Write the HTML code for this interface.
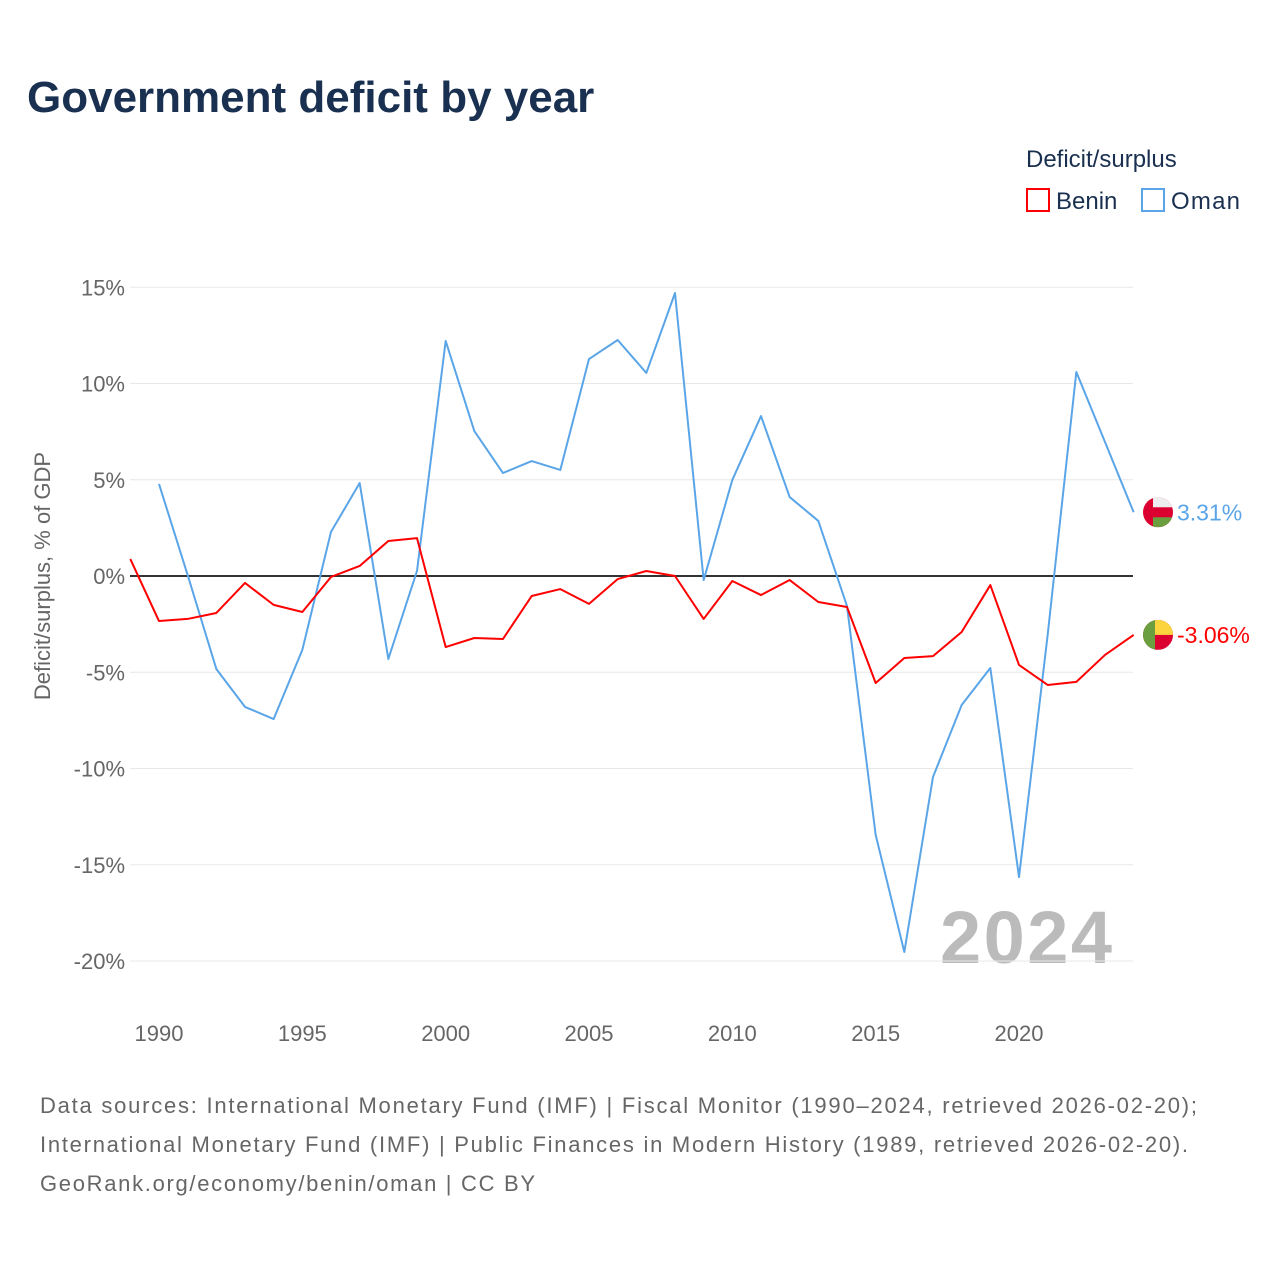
<!DOCTYPE html>
<html><head><meta charset="utf-8"><style>
body{margin:0;background:#fff;font-family:"Liberation Sans",sans-serif}
</style></head><body>
<svg id="chart" width="1280" height="1280" xmlns="http://www.w3.org/2000/svg" style="display:block;font-family:'Liberation Sans',sans-serif">
<text x="27" y="112" font-size="44" font-weight="bold" fill="#1a3050">Government deficit by year</text>
<text x="1026" y="167" font-size="24" fill="#1a3050">Deficit/surplus</text>
<g><rect x="1027" y="189" width="22" height="22" fill="none" stroke="#f00" stroke-width="2"/><text x="1056" y="209" font-size="24" fill="#1a3050">Benin</text></g>
<g><rect x="1142" y="189" width="22" height="22" fill="none" stroke="#5aa5e8" stroke-width="2"/><text x="1171" y="209" font-size="24" fill="#1a3050" textLength="69">Oman</text></g>
<text transform="translate(50,576) rotate(-90)" text-anchor="middle" font-size="22" fill="#666">Deficit/surplus, % of GDP</text>
<text x="940" y="963" font-size="74" font-weight="bold" fill="#bbb" textLength="172">2024</text>
<g id="grid"></g><g id="series"></g>
<g font-size="22" fill="#666">
<text x="40" y="1113" textLength="1157">Data sources: International Monetary Fund (IMF) | Fiscal Monitor (1990–2024, retrieved 2026-02-20);</text>
<text x="40" y="1152" textLength="1148">International Monetary Fund (IMF) | Public Finances in Modern History (1989, retrieved 2026-02-20).</text>
<text x="40" y="1191" textLength="495">GeoRank.org/economy/benin/oman | CC BY</text>
</g>
</svg>
<script>
const yTicks=[15,10,5,0,-5,-10,-15,-20];
const xTicks=[1990,1995,2000,2005,2010,2015,2020];
const beninYears=[1989,1990,1991,1992,1993,1994,1995,1996,1997,1998,1999,2000,2001,2002,2003,2004,2005,2006,2007,2008,2009,2010,2011,2012,2013,2014,2015,2016,2017,2018,2019,2020,2021,2022,2023,2024];
const beninValues=[0.88,-2.34,-2.23,-1.92,-0.36,-1.5,-1.87,-0.05,0.52,1.82,1.97,-3.69,-3.22,-3.27,-1.04,-0.68,-1.45,-0.16,0.26,0,-2.23,-0.26,-0.99,-0.21,-1.35,-1.61,-5.56,-4.26,-4.16,-2.91,-0.47,-4.62,-5.66,-5.5,-4.1,-3.06];
const omanYears=[1990,1991,1992,1993,1994,1995,1996,1997,1998,1999,2000,2001,2002,2003,2004,2005,2006,2007,2008,2009,2010,2011,2012,2013,2014,2015,2016,2017,2018,2019,2020,2021,2022,2023,2024];
const omanValues=[4.78,0.05,-4.83,-6.8,-7.43,-3.84,2.29,4.83,-4.31,0.26,12.21,7.53,5.35,5.97,5.51,11.27,12.26,10.55,14.7,-0.21,4.99,8.31,4.1,2.86,-1.56,-13.45,-19.53,-10.44,-6.7,-4.78,-15.64,-3.06,10.6,6.96,3.31];
const NS="http://www.w3.org/2000/svg";
const X=y=>159+(y-1990)*(1019-159)/30;
const Y=v=>576-v*(961-576)/20;
function mk(t,a,p){const e=document.createElementNS(NS,t);for(const k in a)e.setAttribute(k,a[k]);p.appendChild(e);return e;}
const grid=document.getElementById('grid'),ser=document.getElementById('series');
yTicks.forEach(v=>{
  const l=mk('line',{x1:130,x2:1133,y1:Y(v),y2:Y(v),stroke:v===0?'#333':'#e8e8e8','stroke-width':v===0?2:1},grid);
  
  
  const t=mk('text',{x:125,y:Y(v)+8,'text-anchor':'end','font-size':22,fill:'#666'},grid);
  t.textContent=v+'%';
  
  
});
xTicks.forEach(y=>{
  const t=mk('text',{x:X(y),y:1041,'text-anchor':'middle','font-size':22,fill:'#666'},grid);
  t.textContent=y;
  
  
});
function line(ys,vs,c,name){
  const p=mk('polyline',{points:ys.map((y,i)=>X(y)+','+Y(vs[i])).join(' '),fill:'none',stroke:c,'stroke-width':2,'stroke-linejoin':'round'},ser);
  
  
}
line(omanYears,omanValues,'#5aa5e8','oman-line');
line(beninYears,beninValues,'#f00','benin-line');
function flag(cy,kind){
  const g=mk('g',{},ser);
  
  
  const cid='c'+kind;
  const cp=mk('clipPath',{id:cid},g);mk('circle',{cx:1158,cy:cy,r:15},cp);
  const h=mk('g',{'clip-path':'url(#'+cid+')'},g);
  if(kind==='oman'){
    mk('rect',{x:1143,y:cy-15,width:30,height:30,fill:'#db0030'},h);
    mk('rect',{x:1153,y:cy-15,width:20,height:10,fill:'#eee'},h);
    mk('rect',{x:1153,y:cy+5,width:20,height:10,fill:'#6a9e3e'},h);
  }else{
    mk('rect',{x:1143,y:cy-15,width:30,height:30,fill:'#db0030'},h);
    mk('rect',{x:1155,y:cy-15,width:18,height:15,fill:'#fcd43e'},h);
    mk('rect',{x:1143,y:cy-15,width:12,height:30,fill:'#6a9e3e'},h);
  }
}
function endLabel(v,c,kind){
  const cy=Y(v);flag(cy,kind);
  const t=mk('text',{x:1177,y:cy+8,'font-size':23,fill:c},ser);
  t.textContent=v.toFixed(2)+'%';
  
  
}
endLabel(omanValues[omanValues.length-1],'#5aa5e8','oman');
endLabel(beninValues[beninValues.length-1],'#f00','benin');
</script>
</body></html>
